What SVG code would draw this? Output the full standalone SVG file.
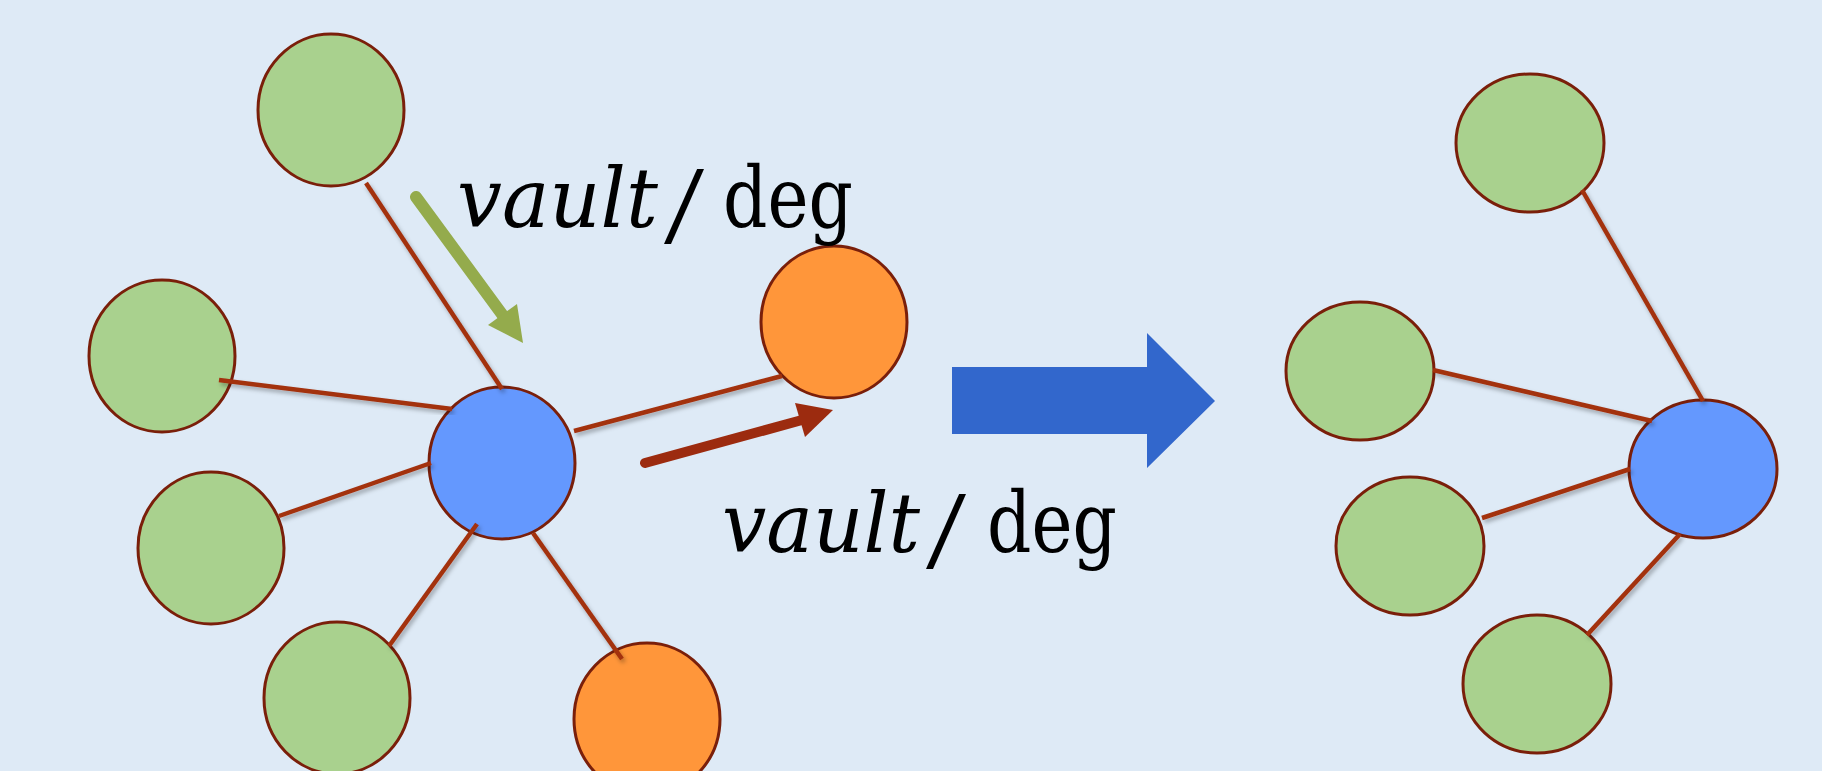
<svg xmlns="http://www.w3.org/2000/svg" width="1822" height="771" viewBox="0 0 1822 771">
<defs>
<filter id="sh" x="-20%" y="-20%" width="140%" height="140%">
<feDropShadow dx="2" dy="3" stdDeviation="2" flood-color="#000" flood-opacity="0.3"/>
</filter>
<style>
.g{fill:#A9D18E;stroke:#7A1F0A;stroke-width:3}
.b{fill:#6498FE;stroke:#7A1F0A;stroke-width:3}
.o{fill:#FF963A;stroke:#7A1F0A;stroke-width:3}
.e{stroke:#A3300E;stroke-width:4.5;fill:none;stroke-linecap:butt;filter:url(#sh)}
.it{font-family:"DejaVu Serif","Liberation Serif",serif;font-style:italic;font-size:82px;fill:#000}
.rm{font-family:"DejaVu Serif","Liberation Serif",serif;font-size:84px;fill:#000}
.sl{font-family:"Liberation Serif","DejaVu Serif",serif;font-size:112px;fill:#000}
</style>
</defs>
<rect width="1822" height="771" fill="#DEEAF6"/>

<g id="left-top"><ellipse class="g" cx="331" cy="110" rx="73" ry="76"/></g>
<g id="left-left"><ellipse class="g" cx="162" cy="356" rx="73" ry="76"/></g>
<g id="left-midleft"><ellipse class="g" cx="211" cy="548" rx="73" ry="76"/></g>
<g id="left-bottom"><ellipse class="g" cx="337" cy="698" rx="73" ry="76"/></g>
<g id="left-orange-bottom"><ellipse class="o" cx="647" cy="719" rx="73" ry="76"/></g>
<g id="left-orange-right"><ellipse class="o" cx="834" cy="322" rx="73" ry="76"/></g>
<g id="left-center"><ellipse class="b" cx="502" cy="463" rx="73" ry="76"/></g>

<g id="right-top"><ellipse class="g" cx="1530" cy="143" rx="74" ry="69"/></g>
<g id="right-left"><ellipse class="g" cx="1360" cy="371" rx="74" ry="69"/></g>
<g id="right-midleft"><ellipse class="g" cx="1410" cy="546" rx="74" ry="69"/></g>
<g id="right-bottom"><ellipse class="g" cx="1537" cy="684" rx="74" ry="69"/></g>
<g id="right-center"><ellipse class="b" cx="1703" cy="469" rx="74" ry="69"/></g>

<g id="connectors">
<line class="e" x1="366" y1="183" x2="502" y2="389"/>
<line class="e" x1="219" y1="380" x2="452" y2="409"/>
<line class="e" x1="279" y1="516" x2="431" y2="463"/>
<line class="e" x1="389" y1="646" x2="477" y2="524"/>
<line class="e" x1="533" y1="533" x2="622" y2="659"/>
<line class="e" x1="574" y1="431" x2="782" y2="376"/>
<line class="e" x1="1582" y1="190" x2="1703" y2="401"/>
<line class="e" x1="1433" y1="370" x2="1652" y2="421"/>
<line class="e" x1="1482" y1="518" x2="1630" y2="469"/>
<line class="e" x1="1587" y1="635" x2="1680" y2="534"/>
</g>

<g id="green-arrow">
<line x1="416" y1="197" x2="504" y2="317" stroke="#94AB4C" stroke-width="12" stroke-linecap="round"/>
<polygon points="523,343 488,325 517,304" fill="#94AB4C"/>
</g>
<g id="red-arrow">
<line x1="645" y1="463" x2="802" y2="420" stroke="#9C2B0F" stroke-width="10" stroke-linecap="round"/>
<polygon points="833,410 795,403 805,437" fill="#9C2B0F"/>
</g>

<g id="big-arrow">
<polygon points="952,367 1147,367 1147,333 1215,401 1147,468 1147,434 952,434" fill="#3267CC"/>
</g>

<g id="label-top">
<text class="it" x="457" y="227" textLength="201" lengthAdjust="spacingAndGlyphs">vault</text>
<text class="sl" x="664" y="243" textLength="40" lengthAdjust="spacingAndGlyphs">/</text>
<text class="rm" x="723" y="227" textLength="130" lengthAdjust="spacingAndGlyphs">deg</text>
</g>
<g id="label-bottom">
<text class="it" x="722" y="552" textLength="198" lengthAdjust="spacingAndGlyphs">vault</text>
<text class="sl" x="926" y="568" textLength="40" lengthAdjust="spacingAndGlyphs">/</text>
<text class="rm" x="987" y="552" textLength="130" lengthAdjust="spacingAndGlyphs">deg</text>
</g>
</svg>
